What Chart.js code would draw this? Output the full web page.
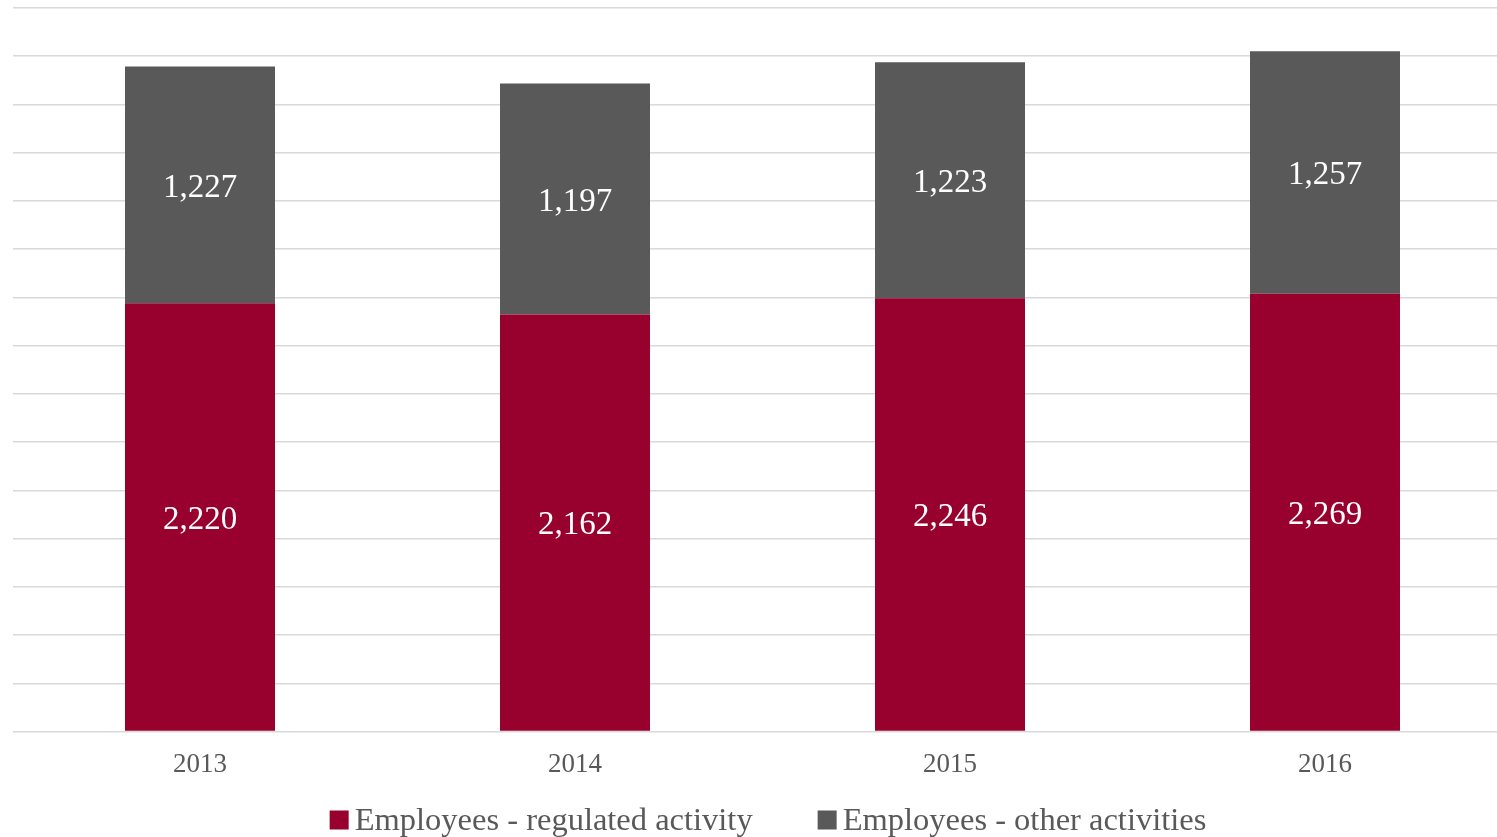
<!DOCTYPE html>
<html>
<head>
<meta charset="utf-8">
<title>Employees by activity</title>
<script src="https://cdn.jsdelivr.net/npm/chart.js@4.4.1/dist/chart.umd.min.js"></script>
<style>
  html, body { margin: 0; padding: 0; background: #fff; overflow: hidden; }
  #wrap { width: 1497px; height: 837px; overflow: hidden; }
  canvas { display: block; }
</style>
</head>
<body>
<div id="wrap"><canvas id="chart" width="1513" height="837"></canvas></div>
<script>
// categories and series
const years = ['2013', '2014', '2015', '2016'];
const regulated = [2220, 2162, 2246, 2269];
const other = [1227, 1197, 1223, 1257];

const seriesNames = ['Employees - regulated activity', 'Employees - other activities'];
const seriesColors = ['#98002E', '#595959'];

const FONT = "'Liberation Serif', 'Times New Roman', serif";

// white value labels in the middle of each segment
const barLabels = {
  id: 'barLabels',
  afterDatasetsDraw(chart) {
    const ctx = chart.ctx;
    ctx.save();
    ctx.font = '33px ' + FONT;
    ctx.fillStyle = '#ffffff';
    ctx.textAlign = 'center';
    ctx.textBaseline = 'middle';
    chart.data.datasets.forEach((ds, i) => {
      const meta = chart.getDatasetMeta(i);
      meta.data.forEach((bar, j) => {
        const y = (bar.y + bar.base) / 2 + 3;
        ctx.fillText(ds.data[j].toLocaleString('en-US'), bar.x, y);
      });
    });
    ctx.restore();
  }
};

// legend row under the axis
const bottomLegend = {
  id: 'bottomLegend',
  afterDraw(chart) {
    const ctx = chart.ctx;
    const box = 19, gap = 6, spacing = 65;
    const cy = 820;
    ctx.save();
    ctx.font = '32.5px ' + FONT;
    ctx.textBaseline = 'middle';
    const items = chart.data.datasets.map(ds => ({
      text: ds.label,
      color: ds.backgroundColor,
      w: box + gap + ctx.measureText(ds.label).width
    }));
    const total = items.reduce((s, it) => s + it.w, 0) + spacing * (items.length - 1);
    let x = 768 - total / 2;
    items.forEach(it => {
      ctx.fillStyle = it.color;
      ctx.fillRect(x, cy - box / 2, box, box);
      ctx.fillStyle = '#595959';
      ctx.fillText(it.text, x + box + gap, cy + 1);
      x += it.w + spacing;
    });
    ctx.restore();
  }
};

new Chart(document.getElementById('chart'), {
  type: 'bar',
  data: {
    labels: years,
    datasets: [
      {
        label: seriesNames[0],
        data: regulated,
        backgroundColor: seriesColors[0],
        barPercentage: 1,
        categoryPercentage: 0.4
      },
      {
        label: seriesNames[1],
        data: other,
        backgroundColor: seriesColors[1],
        barPercentage: 1,
        categoryPercentage: 0.4
      }
    ]
  },
  options: {
    responsive: false,
    animation: false,
    layout: { padding: { left: 12.5, right: 0.5, top: 8, bottom: 39 } },
    plugins: {
      legend: { display: false },
      tooltip: { enabled: false }
    },
    scales: {
      x: {
        stacked: true,
        grid: { display: false, drawTicks: false },
        border: { display: false },
        ticks: {
          color: '#595959',
          font: { family: FONT, size: 27 },
          padding: 17
        }
      },
      y: {
        stacked: true,
        min: 0,
        max: 3750,
        grid: { color: '#d9d9d9', lineWidth: 1.5, drawTicks: false },
        border: { display: false },
        ticks: { display: false, stepSize: 250 }
      }
    }
  },
  plugins: [barLabels, bottomLegend]
});
</script>
</body>
</html>
